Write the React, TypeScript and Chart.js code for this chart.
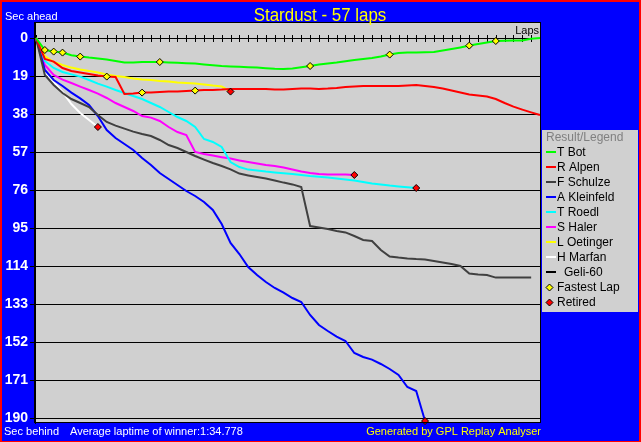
import React, { useEffect, useRef } from "react";
import { Chart, registerables } from "chart.js";

Chart.register(...registerables);

const FONT = "'Liberation Sans', Arial, sans-serif";

const chartTitle = "Stardust - 57 laps";
const totalLaps = 57;
const yTickValues = [0, 19, 38, 57, 76, 95, 114, 133, 152, 171, 190];

const driverNames = ["T Bot", "R Alpen", "F Schulze", "A Kleinfeld", "T Roedl", "S Haler", "L Oetinger", "H Marfan", "Geli-60"];
const driverColors = ["#00ff00", "#ff0000", "#404040", "#0000ff", "#00ffff", "#ff00ff", "#ffff00", "#ffffff", "#000000"];

// seconds behind per lap (lap 0 .. last lap)
const tBot = [0, 6, 6.8, 7.3, 8.6, 9.3, 9.8, 10.2, 10.8, 11.5, 12.2, 12.2, 12, 12, 12, 12.2, 12.4, 12.6, 12.8, 13.2, 13.6, 14, 14.2, 14.4, 14.6, 14.8, 15.1, 15.4, 15.5, 15.2, 14.6, 14, 13.3, 12.7, 12.2, 11.6, 11, 10.5, 10, 9.3, 8.3, 7.5, 7.3, 7.2, 7.1, 7, 6.3, 5.5, 4.7, 3.8, 3, 2.3, 1.5, 1.4, 1.3, 1.3, 0.4, 0];
const rAlpen = [0, 10.5, 11.8, 15, 16.5, 17.3, 18, 18.8, 19.3, 19.5, 28, 27.8, 27.3, 27.2, 27, 26.8, 26.7, 26.5, 26.3, 26, 26, 25.8, 25.5, 25.5, 25.5, 25.5, 25.5, 25.8, 25.8, 25.5, 25.3, 25.2, 25.5, 25.3, 25, 24.5, 24.2, 24, 24, 24, 24, 24, 23.7, 23.5, 24, 24.5, 25.3, 26.3, 27.3, 28.2, 28.7, 29.3, 30.5, 32.5, 34.3, 35.8, 37.2, 38.5];
const fSchulze = [0, 18.5, 23.5, 27.5, 30.5, 32.5, 34.5, 38.5, 42, 43.8, 45.3, 46.8, 48, 49, 51, 53.5, 55, 57, 59, 60.8, 62.5, 64, 65.7, 67.8, 68.7, 69.5, 70.2, 71.2, 72.3, 73.2, 74.5, 94, 94.7, 95.5, 96.5, 97.2, 99, 101, 101.5, 106, 109.3, 109.8, 110.2, 110.5, 110.7, 111.5, 112.3, 113, 114, 117.8, 118.2, 118.5, 119.8, 119.8, 119.8, 119.8, 119.8];
const aKleinfeld = [0, 16, 21, 24, 27.3, 30.2, 33.5, 39, 46, 50, 53, 56, 60, 63.5, 67.5, 70.5, 73.5, 76.5, 79, 82, 86, 93, 102.5, 108, 114.5, 118.5, 122, 125, 127.3, 130, 132, 138.5, 143.5, 146.5, 149.3, 151.5, 157.5, 159.5, 160.8, 163, 165.5, 168.5, 174.5, 176.5, 191.5];
const tRoedl = [0, 11.5, 15, 17, 18.2, 19.3, 21, 22.8, 24.3, 26, 27.5, 29, 30.5, 32.5, 34.5, 37, 39.5, 41.5, 44.5, 50.5, 52, 54.5, 62, 64.5, 65.8, 66.3, 66.8, 67.2, 67.6, 68, 68.5, 69, 69.4, 69.8, 70.2, 70.7, 71.2, 72, 72.8, 73.3, 73.8, 74.2, 74.6, 75];
const sHaler = [0, 13.5, 18.5, 20.8, 22.5, 24.3, 26, 27.8, 30, 32.5, 34.5, 36.5, 39, 39.8, 41.5, 44.5, 47, 48.5, 57, 58, 58.8, 59.6, 60.3, 61.2, 62, 62.8, 63.5, 64, 64.8, 65.8, 66.8, 67.5, 68, 68.2, 68.3, 68.3, 68.5];
const lOetinger = [0, 9, 12, 13.5, 14.8, 15.8, 16.5, 17.3, 18.2, 19, 19.5, 20.2, 20.7, 21, 21.5, 21.8, 22.2, 22.5, 22.8, 23.3, 23.8, 24.2, 26.8];
const hMarfan = [0, 17, 22, 27, 33, 37.5, 41, 44.5];
const geli60: number[] = [];

const seriesValues = [tBot, rAlpen, fSchulze, aKleinfeld, tRoedl, sHaler, lOetinger, hMarfan, geli60];

const fastestLapLaps = [1, 2, 3, 5, 8, 12, 14, 18, 31, 40, 49, 52];
const fastestLapValues = [6, 6.8, 7.3, 9.3, 19.3, 27.3, 12, 26.3, 14, 8.3, 3.8, 1.5];
const retiredLaps = [7, 22, 36, 43, 44];
const retiredValues = [44.5, 26.8, 68.5, 75, 191.5];

const toPoints = (xs: number[], ys: number[]) => xs.map((x, i) => ({ x, y: ys[i] }));
const lapPoints = (ys: number[]) => ys.map((y, i) => ({ x: i, y }));

function drawDiamond(ctx: CanvasRenderingContext2D, x: number, y: number, r: number, fill: string) {
  ctx.beginPath();
  ctx.moveTo(x, y - r);
  ctx.lineTo(x + r, y);
  ctx.lineTo(x, y + r);
  ctx.lineTo(x - r, y);
  ctx.closePath();
  ctx.fillStyle = fill;
  ctx.fill();
  ctx.strokeStyle = "#000";
  ctx.lineWidth = 1;
  ctx.stroke();
}

const framePlugin = {
  id: "frame",
  beforeDraw(chart: any) {
    const { ctx, chartArea: a, width, height } = chart;
    ctx.save();
    ctx.fillStyle = "#ff0000";
    ctx.fillRect(0, 0, width, height);
    ctx.fillStyle = "#0000ff";
    ctx.fillRect(2, 2, width - 4, height - 3);
    ctx.fillStyle = "#d0d0d0";
    ctx.fillRect(a.left, a.top, a.right - a.left, a.bottom - a.top);
    ctx.restore();
  },
  beforeDatasetsDraw(chart: any) {
    const { ctx, chartArea: a, scales } = chart;
    const x = scales.x;
    const y = scales.y;
    const y0 = Math.round(y.getPixelForValue(0));
    ctx.save();
    ctx.strokeStyle = "#000";
    ctx.lineWidth = 1;
    ctx.beginPath();
    for (let lap = 0; lap <= totalLaps; lap++) {
      const px = Math.round(x.getPixelForValue(lap)) + 0.5;
      ctx.moveTo(px, y0 - 3);
      ctx.lineTo(px, y0 + 4);
    }
    ctx.stroke();
    ctx.fillStyle = "#000";
    ctx.font = `11px ${FONT}`;
    ctx.textAlign = "right";
    ctx.textBaseline = "alphabetic";
    ctx.fillText("Laps", a.right - 2, y0 - 4);
    ctx.restore();
  },
  afterDraw(chart: any) {
    const { ctx, chartArea: a } = chart;
    ctx.save();
    ctx.strokeStyle = "#000";
    ctx.lineWidth = 1;
    ctx.strokeRect(a.left - 0.5, a.top + 0.5, a.right - a.left, a.bottom - a.top - 1);

    // title
    ctx.fillStyle = "#ffff00";
    ctx.textBaseline = "alphabetic";
    ctx.save();
    ctx.translate(320, 21);
    ctx.scale(0.89, 1);
    ctx.font = `19px ${FONT}`;
    ctx.textAlign = "center";
    ctx.fillText(chartTitle, 0, 0);
    ctx.restore();

    ctx.font = `11px ${FONT}`;
    ctx.textAlign = "left";
    ctx.fillStyle = "#ffffff";
    ctx.fillText("Sec ahead", 5, 20);
    ctx.fillText("Sec behind", 4, 435);
    ctx.fillText("Average laptime of winner:1:34.778", 70, 435);
    ctx.fillStyle = "#ffff00";
    ctx.textAlign = "right";
    ctx.fillText("Generated by GPL Replay Analyser", 541, 435);

    // legend
    const lx = 542, ly = 130, lw = 96, lh = 182;
    ctx.fillStyle = "#d0d0d0";
    ctx.fillRect(lx, ly, lw, lh);
    ctx.font = `12px ${FONT}`;
    ctx.textAlign = "left";
    ctx.textBaseline = "middle";
    ctx.fillStyle = "#808080";
    ctx.fillText("Result/Legend", 546, 138);
    const rows = [...driverNames, "Fastest Lap", "Retired"];
    rows.forEach((name, i) => {
      const cy = 152 + 15 * i;
      if (i < driverNames.length) {
        ctx.strokeStyle = driverColors[i];
        ctx.lineWidth = 2;
        ctx.beginPath();
        ctx.moveTo(546, cy);
        ctx.lineTo(556, cy);
        ctx.stroke();
      } else {
        drawDiamond(ctx, 549.5, cy + 0.5, 3.5, i === driverNames.length ? "#ffff00" : "#ff0000");
      }
      ctx.fillStyle = "#000";
      ctx.fillText(name, name === "Geli-60" ? 564 : 557, cy + 1);
    });
    ctx.restore();
  },
};

export default function App() {
  const canvasRef = useRef<HTMLCanvasElement | null>(null);

  useEffect(() => {
    const canvas = canvasRef.current;
    if (!canvas) return;
    const lineSets = seriesValues.map((vals, i) => ({
      type: "line" as const,
      label: driverNames[i],
      data: lapPoints(vals),
      borderColor: driverColors[i],
      backgroundColor: driverColors[i],
      borderWidth: 2,
      pointRadius: 0,
      tension: 0,
      fill: false,
    }));
    const chart = new Chart(canvas, {
      type: "line",
      data: {
        datasets: [
          {
            type: "line",
            label: "Retired",
            data: toPoints(retiredLaps, retiredValues),
            showLine: false,
            pointStyle: "rectRot",
            pointRadius: 3.5,
            pointBackgroundColor: "#ff0000",
            pointBorderColor: "#000000",
            pointBorderWidth: 1,
            clip: false,
          } as any,
          {
            type: "line",
            label: "Fastest Lap",
            data: toPoints(fastestLapLaps, fastestLapValues),
            showLine: false,
            pointStyle: "rectRot",
            pointRadius: 3.5,
            pointBackgroundColor: "#ffff00",
            pointBorderColor: "#000000",
            pointBorderWidth: 1,
            clip: false,
          } as any,
          ...lineSets,
        ],
      },
      options: {
        responsive: false,
        animation: false,
        devicePixelRatio: 1,
        layout: { padding: { left: 0, right: 100, top: 22, bottom: 19 } },
        plugins: { legend: { display: false }, tooltip: { enabled: false }, title: { display: false } },
        scales: {
          x: { type: "linear", display: false, min: -0.113, max: totalLaps + 0.113 },
          y: {
            type: "linear",
            reverse: true,
            min: -8,
            max: 192.5,
            afterBuildTicks: (s: any) => {
              s.ticks = yTickValues.map((v) => ({ value: v }));
            },
            afterFit: (s: any) => {
              s.width = 35;
            },
            ticks: {
              color: "#ffffff",
              font: { family: FONT, size: 14, weight: "bold" },
              padding: 2,
              autoSkip: false,
            },
            grid: { color: "#000000", lineWidth: 1, tickLength: 5, drawTicks: true },
            border: { display: true, color: "#000000" },
          },
        },
      } as any,
      plugins: [framePlugin],
    });
    return () => chart.destroy();
  }, []);

  return (
    <div style={{ position: "fixed", left: 0, top: 0, width: 641, height: 442 }}>
      <canvas ref={canvasRef} width={641} height={442} style={{ display: "block" }} />
    </div>
  );
}
